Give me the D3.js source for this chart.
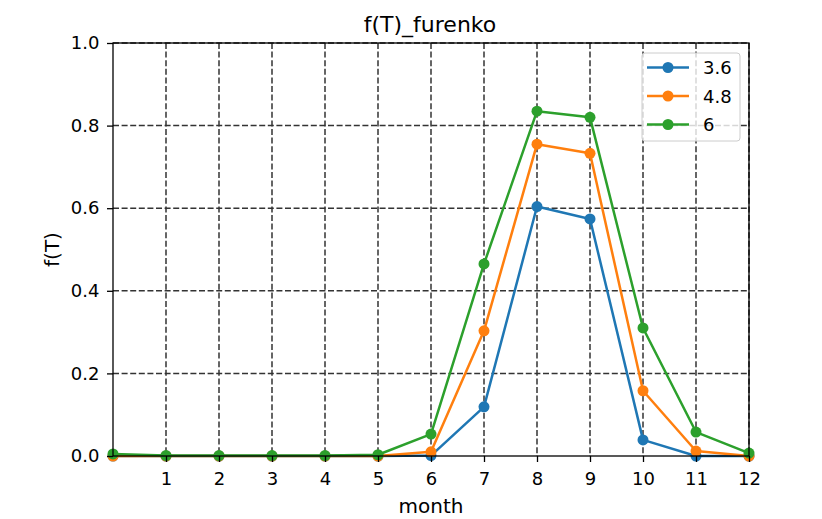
<!DOCTYPE html>
<html>
<head>
<meta charset="utf-8">
<script src="https://cdn.jsdelivr.net/npm/d3@7/dist/d3.min.js"></script>
<style>
  html, body { margin: 0; padding: 0; background: #fff; }
  svg text { font-family: "DejaVu Sans", sans-serif; fill: #000; }
</style>
</head>
<body>
<svg id="chart" width="822" height="519"></svg>
<script>
// Monthly f(T) values for three parameter settings
const months = [0, 1, 2, 3, 4, 5, 6, 7, 8, 9, 10, 11, 12];
const seriesNames = ["3.6", "4.8", "6"];
const values36 = [0, 0, 0, 0, 0, 0, 0.001, 0.119, 0.604, 0.574, 0.039, 0, 0];
const values48 = [0, 0, 0, 0, 0, 0, 0.010, 0.303, 0.755, 0.733, 0.158, 0.012, 0];
const values60 = [0.005, 0.001, 0.001, 0.001, 0.001, 0.003, 0.053, 0.465, 0.835, 0.820, 0.310, 0.058, 0.007];
const xTicks = [1, 2, 3, 4, 5, 6, 7, 8, 9, 10, 11, 12];
const yTicks = [0, 0.2, 0.4, 0.6, 0.8, 1.0];
const colors = ["#1f77b4", "#ff7f0e", "#2ca02c"];

const series = [values36, values48, values60].map((vals, i) => ({
  name: seriesNames[i],
  color: colors[i],
  points: months.map((mo, j) => ({ x: mo, y: vals[j] }))
}));

const svg = d3.select("#chart");
const m = { left: 113, right: 749, top: 43, bottom: 456 };

const x = d3.scaleLinear().domain([0, 12]).range([m.left, m.right]);
const y = d3.scaleLinear().domain([0, 1]).range([m.bottom, m.top]);

// dashed grid
const grid = svg.append("g");
grid.selectAll(".gx").data(xTicks).join("line")
  .attr("x1", d => x(d)).attr("x2", d => x(d))
  .attr("y1", m.top).attr("y2", m.bottom)
  .attr("stroke", "#333").attr("stroke-width", 1.5).attr("stroke-dasharray", "6,2.6");
grid.selectAll(".gy").data(yTicks.filter(d => d > 0)).join("line")
  .attr("x1", m.left).attr("x2", m.right)
  .attr("y1", d => y(d)).attr("y2", d => y(d))
  .attr("stroke", "#333").attr("stroke-width", 1.5).attr("stroke-dasharray", "6,2.6");

// data lines and markers
const line = d3.line().x(d => x(d.x)).y(d => y(d.y));
const plot = svg.append("g");
series.forEach(s => {
  plot.append("path").datum(s.points)
    .attr("d", line).attr("fill", "none")
    .attr("stroke", s.color).attr("stroke-width", 2.5)
    .attr("stroke-linejoin", "round");
  plot.selectAll(null).data(s.points).join("circle")
    .attr("cx", d => x(d.x)).attr("cy", d => y(d.y)).attr("r", 5.5)
    .attr("fill", s.color);
});

// axes
const xAxis = d3.axisBottom(x).tickValues(xTicks).tickSize(6).tickPadding(10).tickFormat(d3.format("d"));
const yAxis = d3.axisLeft(y).tickValues(yTicks).tickSize(6).tickPadding(7.5).tickFormat(d3.format(".1f"));
const gx = svg.append("g").attr("transform", `translate(0,${m.bottom})`).call(xAxis);
const gy = svg.append("g").attr("transform", `translate(${m.left},0)`).call(yAxis);
[gx, gy].forEach(g => {
  g.select(".domain").remove();
  g.selectAll(".tick line").attr("stroke", "#000").attr("stroke-width", 1.3);
  g.selectAll(".tick text").attr("font-size", 18).style("font-family", "DejaVu Sans");
});

// frame
svg.append("rect").attr("x", m.left).attr("y", m.top)
  .attr("width", m.right - m.left).attr("height", m.bottom - m.top)
  .attr("fill", "none").attr("stroke", "#000").attr("stroke-width", 1.3);

// titles
svg.append("text").attr("x", 430).attr("y", 32)
  .attr("text-anchor", "middle").attr("font-size", 22).text("f(T)_furenko");
svg.append("text").attr("x", (m.left + m.right) / 2).attr("y", 513)
  .attr("text-anchor", "middle").attr("font-size", 20).text("month");
svg.append("text").attr("transform", `translate(59,${(m.top + m.bottom) / 2}) rotate(-90)`)
  .attr("text-anchor", "middle").attr("font-size", 20).text("f(T)");

// legend
const lg = svg.append("g").attr("transform", "translate(642,53)");
lg.append("rect").attr("width", 98).attr("height", 88).attr("rx", 3)
  .attr("fill", "#fff").attr("fill-opacity", 0.8)
  .attr("stroke", "#ccc").attr("stroke-width", 1);
series.forEach((s, i) => {
  const yy = 14.5 + i * 28.5;
  lg.append("line").attr("x1", 5).attr("x2", 47).attr("y1", yy).attr("y2", yy)
    .attr("stroke", s.color).attr("stroke-width", 2.5);
  lg.append("circle").attr("cx", 26).attr("cy", yy).attr("r", 5.5).attr("fill", s.color);
  lg.append("text").attr("x", 61).attr("y", yy + 6.5).attr("font-size", 18).text(s.name);
});
</script>
</body>
</html>
